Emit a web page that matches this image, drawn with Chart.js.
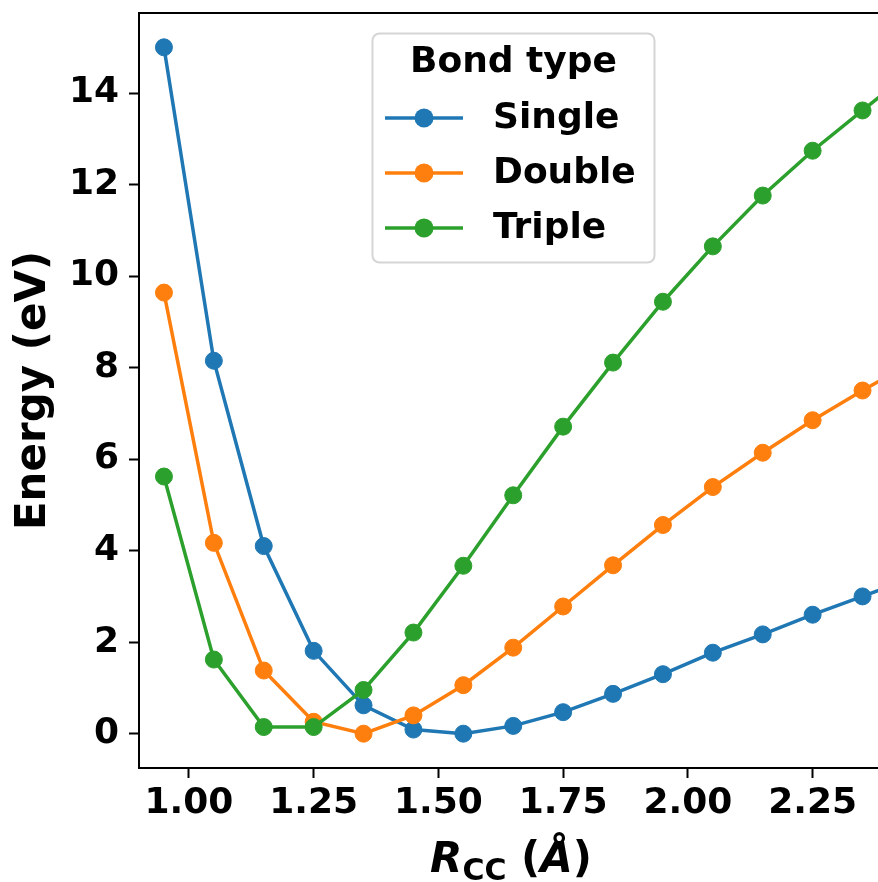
<!DOCTYPE html>
<html>
<head>
<meta charset="utf-8">
<script src="https://cdn.jsdelivr.net/npm/chart.js@4.4.1/dist/chart.umd.min.js"></script>
<style>
    html, body { margin: 0; padding: 0; background: #fff; }
    canvas { display: block; }
</style>
</head>
<body>
<canvas id="chartBond" width="878" height="882"></canvas>
<script>
// C-C distance (Å), one point every 0.1 Å
var rcc = [0.95, 1.05, 1.15, 1.25, 1.35, 1.45, 1.55, 1.65, 1.75, 1.85, 1.95, 2.05, 2.15, 2.25, 2.35, 2.45];

// relative energies (eV) per bond type
var eSingle = [15.0, 8.15, 4.10, 1.81, 0.62, 0.09, 0.0, 0.17, 0.47, 0.87, 1.30, 1.77, 2.17, 2.60, 3.00, 3.40];
var eDouble = [9.64, 4.17, 1.38, 0.26, 0.0, 0.40, 1.06, 1.88, 2.78, 3.68, 4.56, 5.39, 6.14, 6.85, 7.50, 8.12];
var eTriple = [5.62, 1.62, 0.145, 0.145, 0.955, 2.21, 3.67, 5.21, 6.71, 8.11, 9.44, 10.65, 11.76, 12.74, 13.62, 14.50];

var bondNames = ['Single', 'Double', 'Triple'];
var bondColors = ['#1f77b4', '#ff7f0e', '#2ca02c'];
var legendTitle = 'Bond type';

var xTicks = [1.00, 1.25, 1.50, 1.75, 2.00, 2.25];
var yTicks = [0, 2, 4, 6, 8, 10, 12, 14];

var FONT = '"DejaVu Sans", "Liberation Sans", sans-serif';

function toPoints(ys) {
    var pts = [];
    for (var i = 0; i < rcc.length; i++) {
        pts.push({ x: rcc[i], y: ys[i] });
    }
    return pts;
}

var series = [eSingle, eDouble, eTriple];
var objDatasets = [];
for (var i = 0; i < series.length; i++) {
    objDatasets.push({
        label: bondNames[i],
        data: toPoints(series[i]),
        borderColor: bondColors[i],
        backgroundColor: bondColors[i],
        borderWidth: 3.5,
        pointRadius: 8.5,
        pointBorderWidth: 1,
        pointBorderColor: bondColors[i],
        pointBackgroundColor: bondColors[i],
        tension: 0,
        // later series drawn on top
        order: series.length - i
    });
}

// top spine, y title, x title with subscript, and the boxed legend
const framePlugin = {
    id: 'framePlugin',
    afterDraw: function (chart) {
        const ctx = chart.ctx;
        const area = chart.chartArea;
        ctx.save();

        ctx.strokeStyle = '#000';
        ctx.lineWidth = 2;
        ctx.beginPath();
        ctx.moveTo(area.left - 1, area.top);
        ctx.lineTo(area.right, area.top);
        ctx.stroke();

        ctx.fillStyle = '#000';

        // y axis title
        ctx.save();
        ctx.translate(45, (area.top + area.bottom) / 2);
        ctx.rotate(-Math.PI / 2);
        ctx.font = 'bold 42px ' + FONT;
        ctx.textAlign = 'center';
        ctx.textBaseline = 'alphabetic';
        ctx.fillText('Energy (eV)', 0, 0);
        ctx.restore();

        // x axis title: R_CC (Å)
        const parts = [
            { t: 'R', f: 'italic bold 42px ' + FONT, dy: 0 },
            { t: 'CC', f: 'bold 30px ' + FONT, dy: 8 },
            { t: ' (', f: 'bold 42px ' + FONT, dy: 0 },
            { t: 'Å', f: 'italic bold 42px ' + FONT, dy: 0 },
            { t: ')', f: 'bold 42px ' + FONT, dy: 0 }
        ];
        let total = 0;
        for (const p of parts) {
            ctx.font = p.f;
            p.w = ctx.measureText(p.t).width;
            total += p.w;
        }
        let xPos = 511 - total / 2;
        const base = 872;
        ctx.textAlign = 'left';
        ctx.textBaseline = 'alphabetic';
        for (const p of parts) {
            ctx.font = p.f;
            ctx.fillText(p.t, xPos, base + p.dy);
            xPos += p.w;
        }

        // legend box
        const bx = 372.5, by = 33.5, bw = 282, bh = 229;
        ctx.beginPath();
        ctx.roundRect(bx, by, bw, bh, 7);
        ctx.fillStyle = 'rgba(255,255,255,0.8)';
        ctx.fill();
        ctx.strokeStyle = '#d5d5d5';
        ctx.lineWidth = 2;
        ctx.stroke();

        ctx.fillStyle = '#000';
        ctx.font = 'bold 36px ' + FONT;
        ctx.textAlign = 'center';
        ctx.textBaseline = 'middle';
        ctx.fillText(legendTitle, bx + bw / 2, 63);

        const rowY = [118, 173, 228];
        for (let k = 0; k < bondNames.length; k++) {
            const yy = rowY[k];
            ctx.strokeStyle = bondColors[k];
            ctx.lineWidth = 3.5;
            ctx.beginPath();
            ctx.moveTo(385, yy);
            ctx.lineTo(463, yy);
            ctx.stroke();
            ctx.fillStyle = bondColors[k];
            ctx.beginPath();
            ctx.arc(424, yy, 9.5, 0, Math.PI * 2);
            ctx.fill();
            ctx.fillStyle = '#000';
            ctx.textAlign = 'left';
            ctx.fillText(bondNames[k], 493, yy + 1);
        }

        ctx.restore();
    }
};

let ctx6 = document.getElementById('chartBond').getContext('2d');

let bondChart = new Chart(ctx6, {
    type: 'line',
    data: {
        datasets: objDatasets
    },
    plugins: [framePlugin],
    options: {
        responsive: false,
        animation: false,
        layout: {
            autoPadding: false,
            padding: { top: 13, right: 0, left: 0, bottom: 0 }
        },
        plugins: {
            legend: { display: false },
            tooltip: { enabled: false }
        },
        scales: {
            x: {
                type: 'linear',
                min: 0.9,
                max: 2.381,
                afterFit: function (scale) {
                    scale.height = 114;
                    scale.paddingLeft = 0;
                    scale.paddingRight = 0;
                },
                afterBuildTicks: function (scale) {
                    scale.ticks = xTicks.map(v => ({ value: v }));
                },
                ticks: {
                    color: '#000',
                    padding: 4,
                    maxRotation: 0,
                    font: { family: FONT, size: 36, weight: 'bold' },
                    callback: function (v) { return Number(v).toFixed(2); }
                },
                grid: {
                    drawOnChartArea: false,
                    drawTicks: true,
                    tickLength: 10,
                    tickWidth: 2,
                    tickColor: '#000'
                },
                border: { display: true, color: '#000', width: 2 }
            },
            y: {
                type: 'linear',
                min: -0.75,
                max: 15.75,
                afterFit: function (scale) {
                    scale.width = 139;
                    scale.paddingTop = 0;
                    scale.paddingBottom = 0;
                },
                afterBuildTicks: function (scale) {
                    scale.ticks = yTicks.map(v => ({ value: v }));
                },
                ticks: {
                    color: '#000',
                    padding: 10,
                    font: { family: FONT, size: 36, weight: 'bold' },
                    callback: function (v) { return String(v); }
                },
                grid: {
                    drawOnChartArea: false,
                    drawTicks: true,
                    tickLength: 10,
                    tickWidth: 2,
                    tickColor: '#000'
                },
                border: { display: true, color: '#000', width: 2 }
            }
        }
    }
});
</script>
</body>
</html>
